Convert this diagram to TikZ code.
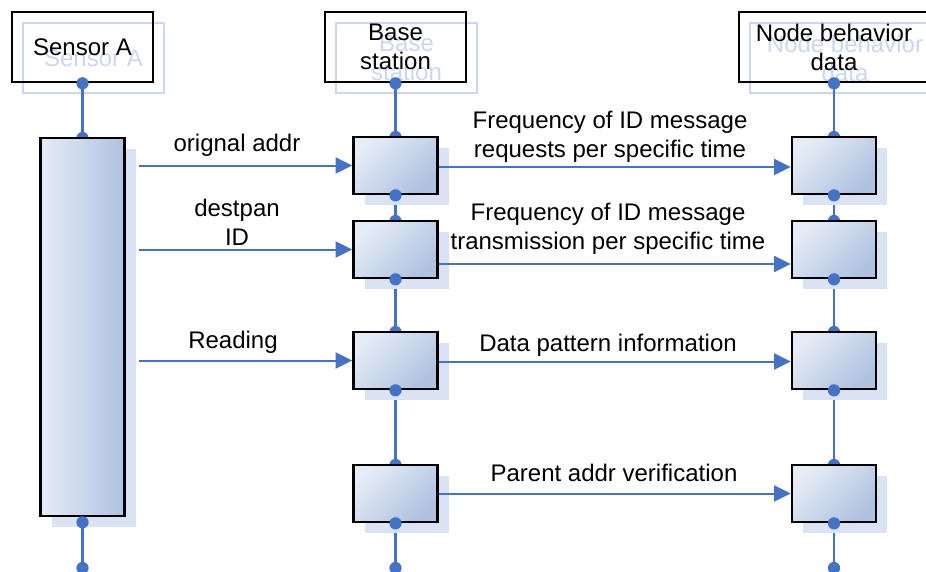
\documentclass[tikz,border=0pt]{standalone}
\usepackage{fontspec}
\setmainfont{Liberation Sans}
\usetikzlibrary{arrows.meta,calc,shadows}
\definecolor{lineblue}{HTML}{4472C4}
\definecolor{shadowblue}{HTML}{DAE3F3}
\definecolor{hdrshadow}{HTML}{CAD7EE}
\definecolor{boxlight}{HTML}{E6ECF6}
\definecolor{boxdark}{HTML}{AFC2E0}
\begin{document}
\begin{tikzpicture}[x=0.75pt,y=-0.75pt,
  txt/.style={font=\fontsize{18}{21.75}\selectfont},
  hdr/.style={txt,draw=black,line width=2pt,align=center,inner sep=0,minimum height=52.5pt},
  hdrsh/.style={txt,draw=hdrshadow,text=hdrshadow,line width=1.5pt,align=center,inner sep=0,minimum height=52.5pt},
  act/.style={draw=black,line width=2pt,inner sep=0,minimum width=63pt,minimum height=42.75pt,
    top color=boxlight,bottom color=boxdark,shading angle=45,
    drop shadow={shadow xshift=8.25pt,shadow yshift=-8.25pt,fill=shadowblue,draw=none,opacity=1}},
  life/.style={draw=lineblue,line width=2pt},
  msg/.style={draw=lineblue,line width=1.5pt,-{Triangle[length=12.5pt,width=12pt]}},
  lbl/.style={txt,align=center,inner sep=0},
  dotc/.style={fill=lineblue}
]
\useasboundingbox (0,0) rectangle (926,572);
\clip (0,0) rectangle (926,572);

% header shadows
\node[hdrsh,minimum width=105.75pt] (sash) at (93.5,58) {Sensor A};
\node[hdrsh,minimum width=105.75pt] (bssh) at (406.5,58) {Base\\station};
\node[hdrsh,minimum width=142.5pt] (nbsh) at (845,58) {Node behavior\\data};

% headers
\node[hdr,minimum width=105.75pt] (sa) at (82.5,47) {Sensor A};
\node[hdr,minimum width=105.75pt] (bs) at (395.5,47) {Base\\station};
\node[hdr,minimum width=142.5pt] (nb) at (834,47) {Node behavior\\data};

% end coordinates
\coordinate (saend) at (82.5,568);
\coordinate (bsend) at (395.5,568);
\coordinate (nbend) at (834,568);

\coordinate (pSA) at (82.5,327);

% lifelines (drawn first, boxes on top)
\path (pSA) ++(0,-189) coordinate (saTop) (pSA) ++(0,189) coordinate (saBot);
\draw[life] (sa.south) -- (saTop);
\fill[dotc] (saTop) circle[radius=4.6pt];
\draw[life] (saBot) -- (saend);

\foreach \x/\n in {395.5/bs,834/nb}{
  \draw[life] (\n.south) -- (\x,137);
  \draw[life] (\x,194) -- (\x,221);
  \draw[life] (\x,278) -- (\x,332);
  \draw[life] (\x,389) -- (\x,465);
  \draw[life] (\x,522) -- (\x,568);
  \foreach \t in {137,221,332,465}{\fill[dotc] (\x,\t) circle[radius=4.6pt];}
}

% activation boxes
\node[act,minimum height=283.5pt,left color=boxlight,right color=boxdark] (sa1) at (pSA) {};
\node[act] (bs1) at (395.5,165.5) {};
\node[act] (bs2) at (395.5,249.5) {};
\node[act] (bs3) at (395.5,360.5) {};
\node[act] (bs4) at (395.5,493.5) {};
\node[act] (nb1) at (834,165.5) {};
\node[act] (nb2) at (834,249.5) {};
\node[act] (nb3) at (834,360.5) {};
\node[act] (nb4) at (834,493.5) {};

% dots on top
\foreach \n in {sa,bs,nb}{\fill[dotc] (\n.south) circle[radius=4.6pt];}
\fill[dotc] ($(sa1.south)+(0,5)$) circle[radius=4.6pt];
\fill[dotc] (saend) circle[radius=4.6pt];
\foreach \n in {bs1,bs2,bs3,bs4,nb1,nb2,nb3,nb4}{\fill[dotc] (\n.south) circle[radius=4.6pt];}
\fill[dotc] (bsend) circle[radius=4.6pt];
\fill[dotc] (nbend) circle[radius=4.6pt];

% messages sensor -> base station
\draw[msg] ($(sa1.east |- bs1.west)+(13,0)$) -- (bs1.west);
\draw[msg] ($(sa1.east |- bs2.west)+(13,0)$) -- (bs2.west);
\draw[msg] ($(sa1.east |- bs3.west)+(13,0)$) -- (bs3.west);

% messages base station -> node behavior
\draw[msg] ($(bs1.east)+(0,1.5)$) -- ($(nb1.west)+(0,1.5)$);
\draw[msg] ($(bs2.east)+(0,14.5)$) -- ($(nb2.west)+(0,14.5)$);
\draw[msg] ($(bs3.east)+(0,1)$) -- ($(nb3.west)+(0,1)$);
\draw[msg] (bs4.east) -- (nb4.west);

% labels
\node[lbl] (l1) at (237,145) {orignal addr};
\node[lbl] (l2) at (237,222) {destpan\\ID};
\node[lbl] (l3) at (233,342) {Reading};
\node[lbl] (l4) at (610,137) {Frequency of ID message\\requests per specific time};
\node[lbl] (l5) at (608,229) {Frequency of ID message\\transmission per specific time};
\node[lbl] (l6) at (608,345) {Data pattern information};
\node[lbl] (l7) at (614,473) {Parent addr verification};
\end{tikzpicture}
\end{document}
